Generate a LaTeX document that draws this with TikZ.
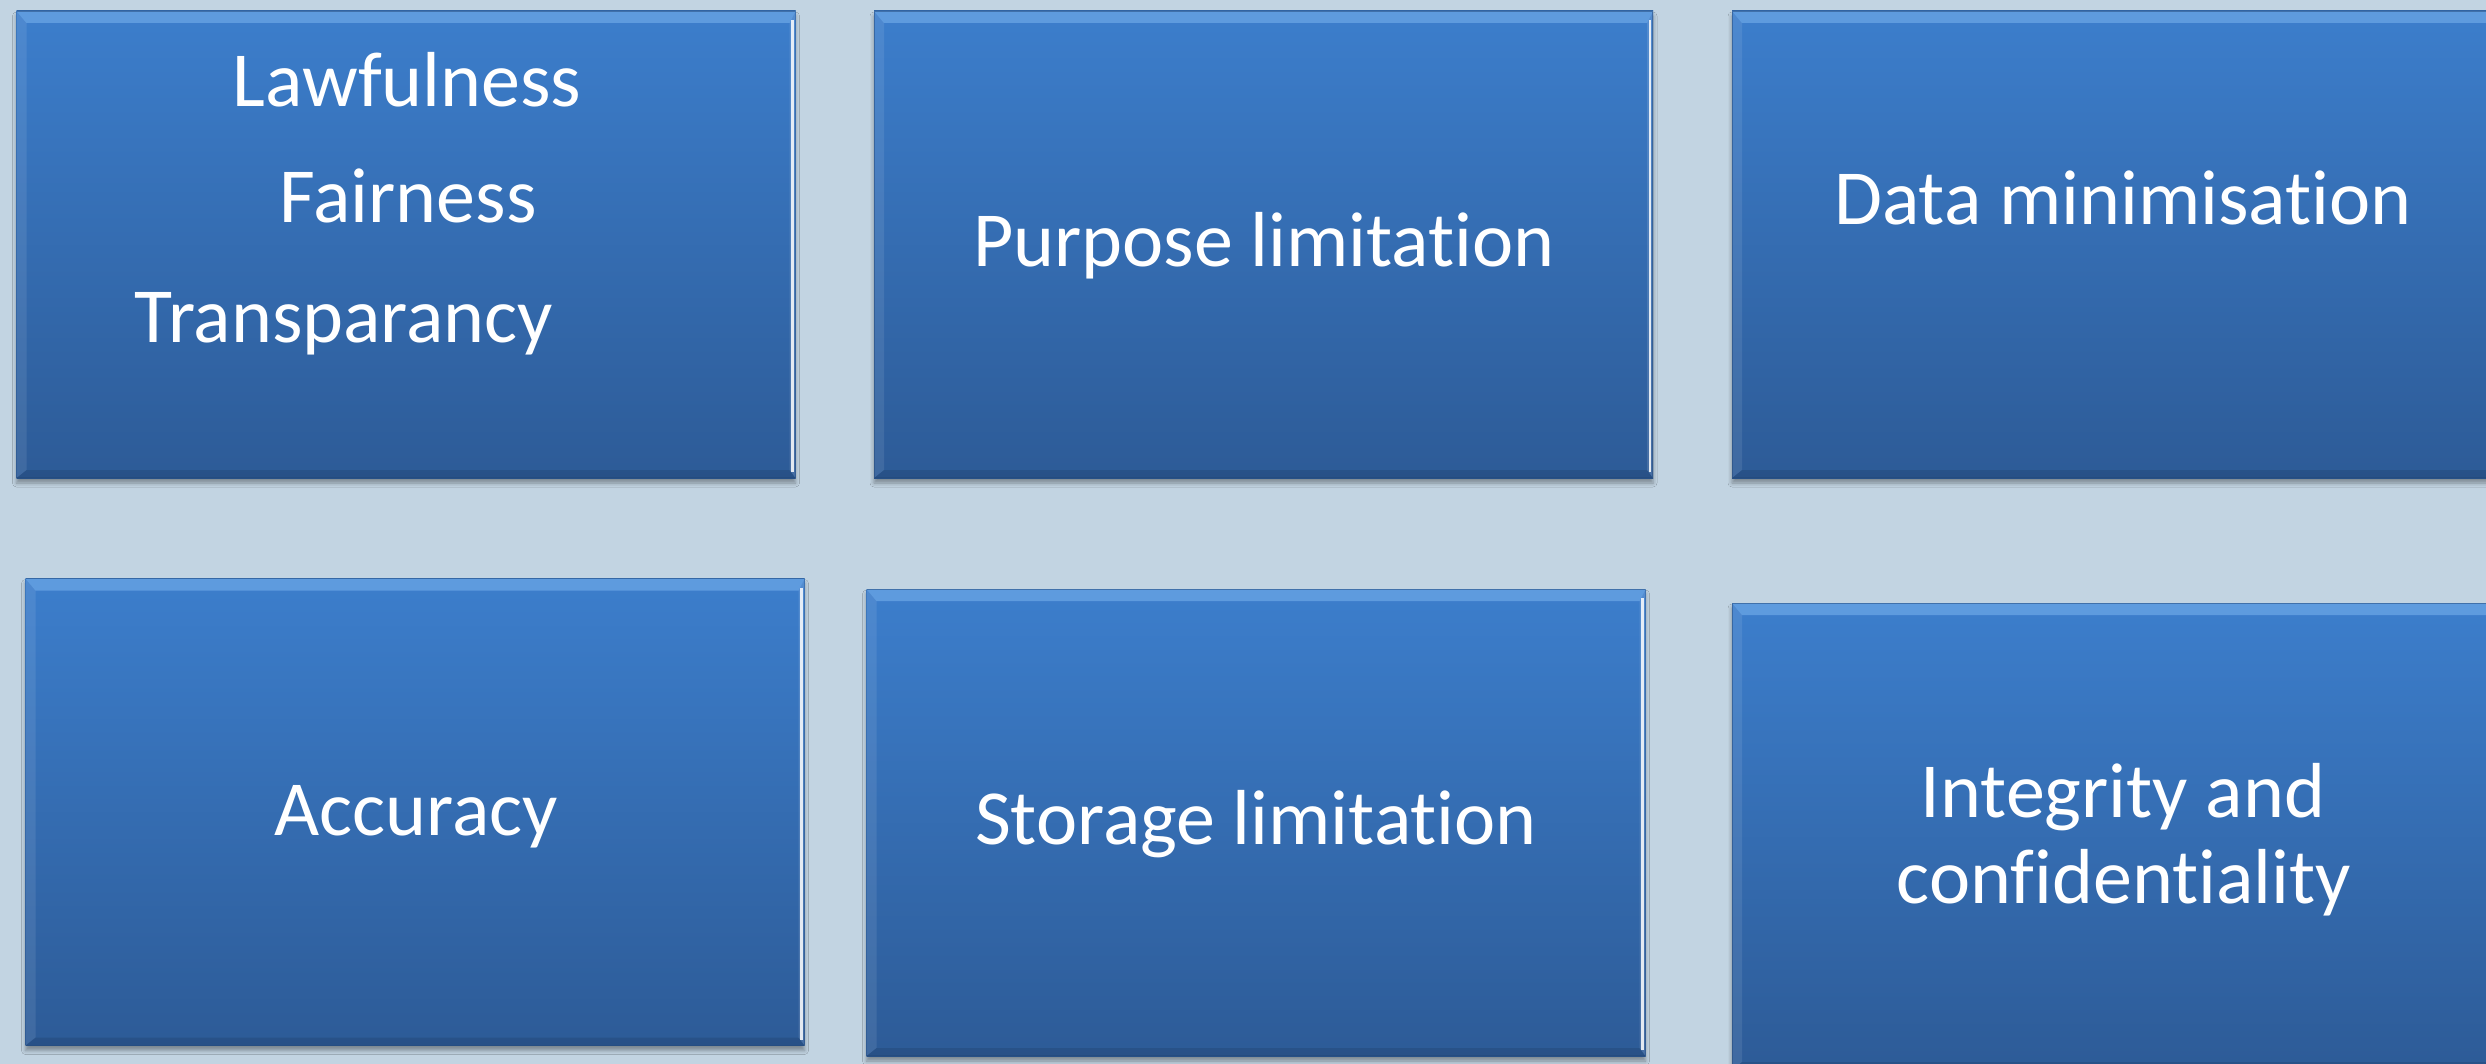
\documentclass[tikz,border=0pt]{standalone}
\usepackage{fontspec}
\setmainfont{Carlito}[Ligatures=NoCommon]
\usetikzlibrary{shadows.blur}

\definecolor{pagebg}{HTML}{C2D4E2}
\definecolor{bodytop}{HTML}{3C7ECC}
\definecolor{bodybot}{HTML}{2D5B97}
\definecolor{bevhiA}{HTML}{5E9BDE}
\definecolor{bevhiM}{HTML}{8CC6F4}
\definecolor{bevhiB}{HTML}{4C8CD8}

\tikzset{
  panel/.style={
    rectangle, inner sep=0pt,
    minimum width=779pt, minimum height=467pt,
    top color=bodytop, bottom color=bodybot,
    blur shadow={shadow xshift=0pt, shadow yshift=-5pt,
                 shadow blur radius=4pt, shadow opacity=35},
    path picture={
      % top face of the bevel
      \shade[top color=bevhiA, middle color=bevhiM, bottom color=bevhiB]
        (path picture bounding box.north west)
        -- (path picture bounding box.north east)
        -- ([xshift=-6pt,yshift=-12pt]path picture bounding box.north east)
        -- ([xshift=10pt,yshift=-12pt]path picture bounding box.north west) -- cycle;
      % left face
      \fill[white, opacity=0.09]
        (path picture bounding box.north west)
        -- ([xshift=10pt,yshift=-12pt]path picture bounding box.north west)
        -- ([xshift=10pt,yshift=8pt]path picture bounding box.south west)
        -- (path picture bounding box.south west) -- cycle;
      % bottom face
      \fill[black, opacity=0.10]
        (path picture bounding box.south west)
        -- ([xshift=10pt,yshift=8pt]path picture bounding box.south west)
        -- ([xshift=-6pt,yshift=8pt]path picture bounding box.south east)
        -- (path picture bounding box.south east) -- cycle;
      % right face with its bright rim
      \fill[white, opacity=0.12]
        (path picture bounding box.north east)
        -- ([xshift=-6pt,yshift=-12pt]path picture bounding box.north east)
        -- ([xshift=-6pt,yshift=8pt]path picture bounding box.south east)
        -- (path picture bounding box.south east) -- cycle;
      \draw[white, opacity=0.85, line width=2.5pt]
        ([xshift=-3pt,yshift=-9pt]path picture bounding box.north east)
        -- ([xshift=-3pt,yshift=6pt]path picture bounding box.south east);
      % thin outline at the outer edge
      \draw[bodybot!80!black, opacity=0.5, line width=1.5pt]
        (path picture bounding box.north west)
        rectangle (path picture bounding box.south east);
    }
  },
  label/.style={text=white, font=\fontsize{78}{94}\selectfont, anchor=base, inner sep=0pt}
}

\begin{document}
\begin{tikzpicture}[x=1pt, y=-1pt]
  \useasboundingbox (0,0) rectangle (2486,1064);
  \fill[pagebg] (0,0) rectangle (2486,1064);
  \clip (0,0) rectangle (2486,1064);

  % panels, upper row
  \node[panel] (p1) at (406,244.5) {};
  \node[panel] (p2) at (1263.5,244.5) {};
  \node[panel] (p3) at (2121.5,244.5) {};
  % panels, lower row
  \node[panel] (p4) at (415,812) {};
  \node[panel] (p5) at (1256,822.5) {};
  \node[panel] (p6) at (2121.5,836.5) {};

  % texts
  \node[label] (t1a) at (407,107) {Lawfulness};
  \node[label] (t1b) at (408,223) {Fairness};
  \node[label] (t1c) at (344,343) {Transparancy};
  \node[label] (t2)  at (1264,267) {Purpose limitation};
  \node[label] (t3)  at (2123,225) {Data minimisation};
  \node[label] (t4)  at (416,835) {Accuracy};
  \node[label] (t5)  at (1256,844) {Storage limitation};
  \node[label] (t6a) at (2123,817) {Integrity and};
  \node[label] (t6b) at (2124,903) {confidentiality};
\end{tikzpicture}
\end{document}
